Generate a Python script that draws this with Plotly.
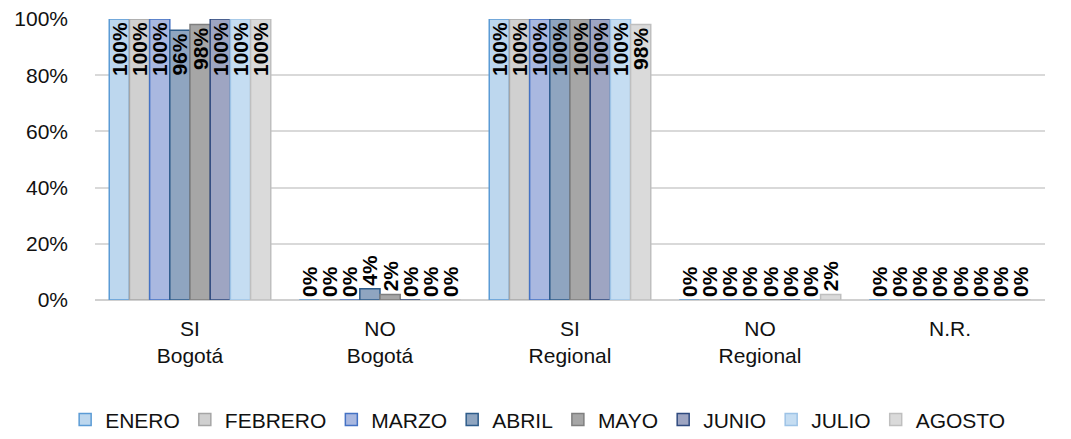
import plotly.graph_objects as go

categories = ["SI<br>Bogotá", "NO<br>Bogotá", "SI<br>Regional", "NO<br>Regional", "N.R."]
months = ["ENERO", "FEBRERO", "MARZO", "ABRIL", "MAYO", "JUNIO", "JULIO", "AGOSTO"]
values = {
    "ENERO":   [100, 0, 100, 0, 0],
    "FEBRERO": [100, 0, 100, 0, 0],
    "MARZO":   [100, 0, 100, 0, 0],
    "ABRIL":   [96, 4, 100, 0, 0],
    "MAYO":    [98, 2, 100, 0, 0],
    "JUNIO":   [100, 0, 100, 0, 0],
    "JULIO":   [100, 0, 100, 0, 0],
    "AGOSTO":  [100, 0, 98, 2, 0],
}
fill_colors = ["#BDD7EE", "#D0D0D0", "#A9B8E0", "#8FA5C0", "#A6A6A6", "#9EA5C2", "#C5DDF2", "#DADADA"]
line_colors = ["#5B9BD5", "#A5A5A5", "#4472C4", "#2E5C8A", "#7F7F7F", "#2F4A7F", "#9DC3E6", "#BFBFBF"]

FONT = "Liberation Sans, Arial"

fig = go.Figure()
for i, m in enumerate(months):
    vals = values[m]
    fig.add_trace(go.Bar(
        name=m,
        x=categories,
        y=vals,
        text=[f"{v}%" for v in vals],
        textposition=["inside" if v >= 50 else "outside" for v in vals],
        insidetextanchor="end",
        textangle=-90,
        constraintext="none",
        cliponaxis=False,
        textfont=dict(family=FONT, size=21, color="black", weight="bold"),
        marker=dict(color=fill_colors[i], line=dict(color=line_colors[i], width=1.5)),
    ))

fig.update_layout(
    width=1071, height=439,
    barmode="group",
    bargap=0.15,
    bargroupgap=0,
    plot_bgcolor="white",
    paper_bgcolor="white",
    margin=dict(l=87, r=34, t=11, b=147),
    font=dict(family=FONT, size=21, color="#111"),
    legend=dict(orientation="h", xref="container", x=0.495, xanchor="center",
                yref="container", y=0.062, yanchor="middle",
                font=dict(size=21, color="#111"), itemwidth=30, traceorder="normal"),
    showlegend=True,
)
fig.update_yaxes(range=[0, 100], tickvals=[0, 20, 40, 60, 80, 100],
                 ticktext=["0%", "20%", "40%", "60%", "80%", "100%"],
                 showgrid=True, gridcolor="#D9D9D9", gridwidth=2,
                 zeroline=True, zerolinecolor="#D0D0D0", zerolinewidth=2,
                 ticks="", tickfont=dict(size=21, color="#111"), ticklabelstandoff=26,
                 ticklabeloverflow="allow", automargin=False)
fig.update_xaxes(tickfont=dict(size=21, color="#111"), showline=False, ticks="",
                 ticklabelstandoff=14, automargin=False)

fig.write_html("out.html")
